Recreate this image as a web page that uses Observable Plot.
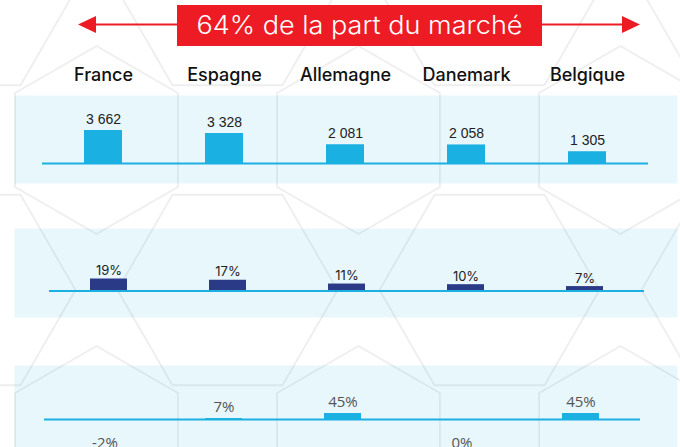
<!DOCTYPE html>
<html><head><meta charset="utf-8">
<script src="https://cdn.jsdelivr.net/npm/d3@7"></script>
<script src="https://cdn.jsdelivr.net/npm/@observablehq/plot@0.6"></script>
<style>
html,body{margin:0;padding:0;background:#fff;}
#chart{position:relative;width:680px;height:447px;overflow:hidden;font-family:Inter, "Noto Sans", sans-serif;background:#fff;}
#chart > svg{position:absolute;left:0;}
</style></head><body><div id="chart"></div>
<script>
// ---- data ----
const countries = ["France", "Espagne", "Allemagne", "Danemark", "Belgique"];
const volumes = [3662, 3328, 2081, 2058, 1305];
const shares = [19, 17, 11, 10, 7];
const growth = [-2, 7, 45, 0, 45];
const title = "64% de la part du marché";

// ---- styles ----
const cyan = "#1ab0e2";
const navy = "#2b3a87";
const red = "#ed1c24";
const panelFill = "rgba(26,176,226,0.10)";
const ns = "http://www.w3.org/2000/svg";
const chart = document.getElementById("chart");

function el(tag, attrs, parent) {
  const e = document.createElementNS(ns, tag);
  for (const k in attrs) e.setAttribute(k, attrs[k]);
  if (parent) parent.appendChild(e);
  return e;
}

// ---- decorative background pattern ----
const bg = el("svg", {width: 680, height: 447, style: "top:0"}, chart);
const pg = el("g", {fill: "none", stroke: "#eeeeee", "stroke-width": 1.8}, bg);
function hex(cx, cy, r, rot) {
  const pts = d3.range(6).map(k => {
    const a = (Math.PI / 3) * k + rot;
    return [cx + r * Math.cos(a), cy + r * Math.sin(a)];
  });
  el("polygon", {points: pts.map(p => p.join(",")).join(" ")}, pg);
}
for (let i = -1; i <= 3; i++) {
  for (let j = -1; j <= 2; j++) {
    const ox = 262 * i, oy = 300 * j;
    hex(96.5 + ox, 140 + oy, 94, Math.PI / 6);
    hex(227.5 + ox, 290 + oy, 110, 0);
  }
}

// ---- header (banner with arrows) ----
const hd = el("svg", {width: 680, height: 50, style: "top:0"}, chart);
el("line", {x1: 94, y1: 24.5, x2: 178, y2: 24.5, stroke: red, "stroke-width": 2}, hd);
el("polygon", {points: "78,24.5 96,16 96,33", fill: red}, hd);
el("line", {x1: 541, y1: 24.5, x2: 624, y2: 24.5, stroke: red, "stroke-width": 2}, hd);
el("polygon", {points: "640,24.5 622,16 622,33", fill: red}, hd);
el("rect", {x: 177, y: 5, width: 365, height: 41, fill: red}, hd);
const t = el("text", {x: 359.5, y: 34, "text-anchor": "middle", fill: "#fff", "font-size": 25,
  "font-weight": 300, "font-family": "Inter, sans-serif", textLength: 326, lengthAdjust: "spacingAndGlyphs"}, hd);
t.textContent = title;

// ---- panel 1 : volumes ----
const rows1 = countries.map((c, i) => ({country: c, value: volumes[i]}));
const fmtVol = v => d3.format(",")(v).replace(/,/g, " ");
const p1 = Plot.plot({
  width: 680, height: 133,
  marginTop: 45, marginBottom: 0, marginLeft: 14, marginRight: 3,
  x: {type: "band", domain: countries, range: [42, 648], paddingInner: 0.687, paddingOuter: 0.3435, axis: null},
  y: {domain: [0, d3.max(volumes)], range: [113, 80], axis: null},
  style: {background: "transparent", overflow: "visible"},
  marks: [
    Plot.frame({fill: panelFill, stroke: null}),
    Plot.barY(rows1, {x: "country", y: "value", fill: cyan}),
    Plot.ruleY([0], {stroke: cyan, strokeWidth: 2, insetLeft: 28, insetRight: 29}),
    Plot.text(rows1, {x: "country", y: "value", text: d => fmtVol(d.value), lineAnchor: "bottom", dy: -7,
      fontSize: 14, fontFamily: "Liberation Sans, Arial, sans-serif", fill: "#222"}),
    Plot.text(countries, {x: d => d, frameAnchor: "top", text: d => d, lineAnchor: "bottom", dy: -15,
      fontSize: 18, fontWeight: 500, fontFamily: "Inter, sans-serif", fill: "#111"})
  ]
});
p1.style.top = "50px";
chart.appendChild(p1);

// ---- panel 2 : shares ----
const rows2 = countries.map((c, i) => ({country: c, value: shares[i]}));
const p2 = Plot.plot({
  width: 680, height: 97,
  marginTop: 8, marginBottom: 0, marginLeft: 14, marginRight: 3,
  x: {type: "band", domain: countries, range: [49, 644], paddingInner: 0.69, paddingOuter: 0.345, axis: null},
  y: {domain: [0, d3.max(shares)], range: [70.5, 58.5], axis: null},
  style: {background: "transparent", overflow: "visible"},
  marks: [
    Plot.frame({fill: panelFill, stroke: null}),
    Plot.barY(rows2, {x: "country", y: "value", fill: navy}),
    Plot.ruleY([0], {stroke: cyan, strokeWidth: 2, insetLeft: 35, insetRight: 33}),
    Plot.text(rows2, {x: "country", y: "value", text: d => d.value + "%", lineAnchor: "bottom", dy: -4,
      fontSize: 13, fontFamily: "Inter, sans-serif", fill: "#222"})
  ]
});
p2.style.top = "220px";
chart.appendChild(p2);

// ---- panel 3 : growth ----
const rows3 = countries.map((c, i) => ({country: c, value: growth[i]}));
const p3 = Plot.plot({
  width: 680, height: 90,
  marginTop: 8, marginBottom: 0, marginLeft: 14, marginRight: 3,
  x: {type: "band", domain: countries, range: [44, 640], paddingInner: 0.69, paddingOuter: 0.345, axis: null},
  y: {domain: [0, d3.max(growth)], range: [62, 56], axis: null},
  style: {background: "transparent", overflow: "visible"},
  marks: [
    Plot.frame({fill: panelFill, stroke: null}),
    Plot.barY(rows3, {x: "country", y: "value", fill: cyan}),
    Plot.ruleY([0], {stroke: cyan, strokeWidth: 2, insetLeft: 30, insetRight: 37}),
    Plot.text(rows3.filter(d => d.value > 0), {x: "country", y: "value", text: d => d.value + "%", lineAnchor: "bottom", dy: -7,
      fontSize: 15, fontFamily: "Open Sans, sans-serif", fill: "#555"}),
    Plot.text(rows3.filter(d => d.value <= 0), {x: "country", y: "value", text: d => d.value + "%", lineAnchor: "top", dy: 18,
      fontSize: 15, fontFamily: "Open Sans, sans-serif", fill: "#555"})
  ]
});
p3.style.top = "357px";
chart.appendChild(p3);
</script>
</body></html>
